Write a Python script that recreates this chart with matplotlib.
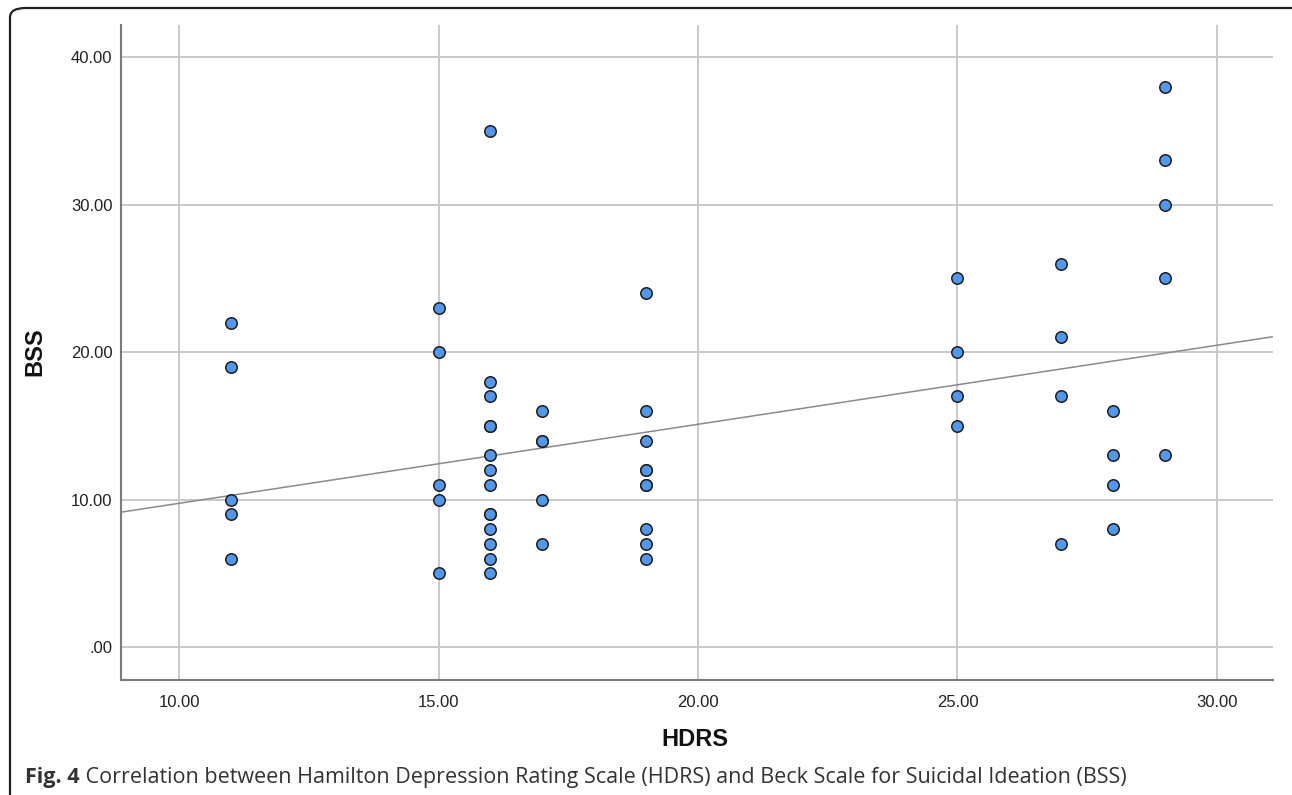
import numpy as np
import matplotlib
matplotlib.use("Agg")
import matplotlib.pyplot as plt
from matplotlib.patches import FancyBboxPatch
from matplotlib.ticker import FuncFormatter

# Data (duplicates where markers look overlapped)
hdrs = [11, 11, 11, 11, 11,
        15, 15, 15, 15, 15,
        16, 16, 16, 16, 16, 16, 16, 16, 16, 16, 16, 16, 16, 16,
        17, 17, 17, 17, 17,
        19, 19, 19, 19, 19, 19, 19, 19, 19, 19,
        25, 25, 25, 25,
        27, 27, 27, 27,
        28, 28, 28, 28,
        29, 29, 29, 29, 29]
bss = [22, 19, 10, 9, 6,
       23, 20, 11, 10, 5,
       35, 18, 17, 15, 15, 13, 12, 11, 9, 9, 8, 7, 6, 5,
       16, 14, 14, 10, 7,
       24, 16, 14, 12, 12, 11, 11, 8, 7, 6,
       25, 20, 17, 15,
       26, 21, 17, 7,
       16, 13, 11, 8,
       38, 33, 30, 25, 13]

x_ticks = [10, 15, 20, 25, 30]
y_ticks = [0, 10, 20, 30, 40]
x_label = "HDRS"
y_label = "BSS"
caption_bold = "Fig. 4"
caption_text = " Correlation between Hamilton Depression Rating Scale (HDRS) and Beck Scale for Suicidal Ideation (BSS)"

W, H = 1292, 795
fig = plt.figure(figsize=(W / 100, H / 100), dpi=100)

# rounded frame
frame = FancyBboxPatch((10 / W, -20 / H), (W + 10) / W, (H + 12) / H,
                       boxstyle="round,pad=0,rounding_size=0.012",
                       transform=fig.transFigure, fill=False,
                       edgecolor="#222222", linewidth=1.6, clip_on=False)
fig.patches.append(frame)

ax = fig.add_axes([120.7 / W, 1 - 680 / H, (1273 - 120.7) / W, (680 - 25) / H])

ax.set_xlim(8.875, 31.08)
ax.set_ylim(-2.24, 42.19)
ax.set_xticks(x_ticks)
ax.set_yticks(y_ticks)

def fmt(v, pos):
    s = f"{v:.2f}"
    if s.startswith("0"):
        s = s[1:]
    return s

ax.xaxis.set_major_formatter(FuncFormatter(fmt))
ax.yaxis.set_major_formatter(FuncFormatter(fmt))
ax.tick_params(length=0, labelsize=12, colors="#222222")
for lab in ax.get_xticklabels() + ax.get_yticklabels():
    lab.set_family("Liberation Sans")
ax.tick_params(axis="x", pad=11)
ax.tick_params(axis="y", pad=6)

ax.grid(True, color="#c9c9c9", linewidth=1.4)
ax.set_axisbelow(True)
for side in ["top", "right"]:
    ax.spines[side].set_visible(False)
for side in ["left", "bottom"]:
    ax.spines[side].set_color("#7a7a7a")
    ax.spines[side].set_linewidth(1.5)

# linear fit
slope, intercept = np.polyfit(hdrs, bss, 1)
xl = np.array(ax.get_xlim())
ax.plot(xl, intercept + slope * xl, color="#8a8a8a", linewidth=1.1, zorder=2)

ax.scatter(hdrs, bss, s=68, facecolor="#5297ea", edgecolor="#1e1e1e",
           linewidth=1.1, zorder=3)

fig.text(695 / W, 1 - 740 / H, x_label, ha="center", va="center",
         fontsize=17, fontweight="bold", family="Liberation Sans", color="#111111")
fig.text(35 / W, 1 - 352 / H, y_label, ha="center", va="center", rotation=90,
         fontsize=17, fontweight="bold", family="Liberation Sans", color="#111111")

t1 = fig.text(25 / W, 1 - 777 / H, caption_bold, ha="left", va="center",
              fontsize=15.5, fontweight="bold", family="Open Sans", color="#333333")
fig.canvas.draw()
bb = t1.get_window_extent()
fig.text(bb.x1 / W, 1 - 777 / H, caption_text, ha="left", va="center",
         fontsize=15.5, family="Open Sans", color="#333333")

fig.savefig("out.png", dpi=100)
